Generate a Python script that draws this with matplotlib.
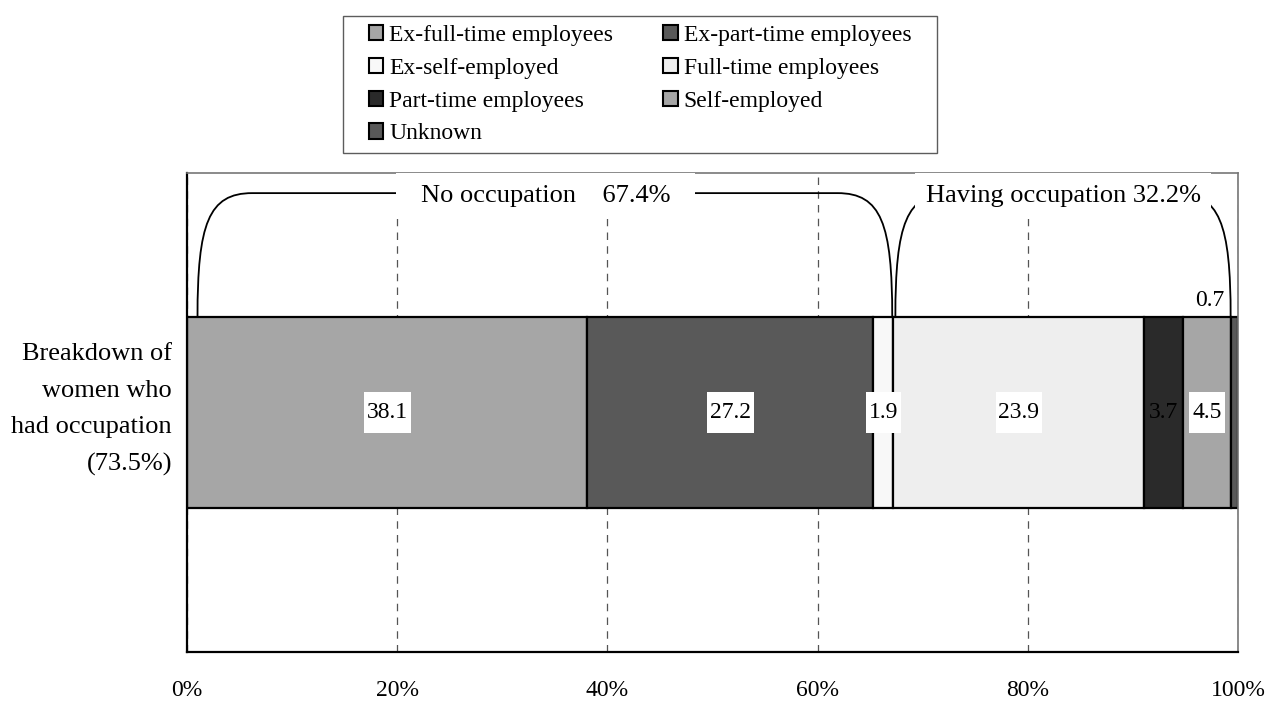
import matplotlib
matplotlib.use("Agg")
import matplotlib.pyplot as plt
import numpy as np
from matplotlib.path import Path
from matplotlib.patches import PathPatch, Patch

plt.rcParams['font.family'] = ['Liberation Serif', 'DejaVu Serif']

categories = ["Ex-full-time employees", "Ex-part-time employees", "Ex-self-employed",
              "Full-time employees", "Part-time employees", "Self-employed", "Unknown"]
values = [38.1, 27.2, 1.9, 23.9, 3.7, 4.5, 0.7]
colors = ["#a6a6a6", "#595959", "#f8f8f8", "#eeeeee", "#2a2a2a", "#a6a6a6", "#595959"]
row_label = "Breakdown of\nwomen who\nhad occupation\n(73.5%)"
xtick_vals = [0, 20, 40, 60, 80, 100]
xtick_labels = ["0%", "20%", "40%", "60%", "80%", "100%"]
no_occ_text = "No occupation    67.4%"
has_occ_text = "Having occupation 32.2%"


def padded_box(px, py):
    # rectangular box with separate horizontal / vertical padding (in fontsize units)
    def box(x0, y0, w, h, mutation_size):
        dx, dy = px * mutation_size, py * mutation_size
        x0, y0, x1, y1 = x0 - dx, y0 - dy, x0 + w + dx, y0 + h + dy
        verts = [(x0, y0), (x1, y0), (x1, y1), (x0, y1), (x0, y0)]
        codes = [Path.MOVETO, Path.LINETO, Path.LINETO, Path.LINETO, Path.CLOSEPOLY]
        return Path(verts, codes)
    return box


def bracket(ax, x0, x1, y0, y1, w):
    k = y0 + 0.75 * (y1 - y0)
    verts = [(x0, y0), (x0, k), (x0 + 0.2 * w, y1), (x0 + w, y1),
             (x1 - w, y1),
             (x1 - 0.2 * w, y1), (x1, k), (x1, y0)]
    codes = [Path.MOVETO, Path.CURVE4, Path.CURVE4, Path.CURVE4,
             Path.LINETO,
             Path.CURVE4, Path.CURVE4, Path.CURVE4]
    ax.add_patch(PathPatch(Path(verts, codes), fill=False, lw=1.3,
                           edgecolor="black", zorder=2.6, clip_on=False))


fig = plt.figure(figsize=(12.7, 7.08), dpi=100)
ax = fig.add_axes([187 / 1270, 56 / 708, 1051 / 1270, 479 / 708])

bar_h = 0.4
lefts = np.concatenate([[0], np.cumsum(values)[:-1]])
ax.barh([0] * len(values), values, left=lefts, height=bar_h, color=colors,
        edgecolor="black", linewidth=1.6, zorder=2)

# value labels in the middle of each segment
label_box = dict(boxstyle=padded_box(0.12, 0.42), fc="white", ec="none")
for v, l in zip(values, lefts):
    if v < 1:
        ax.text(l - 0.6, bar_h / 2 + 0.012, f"{v}", ha="right", va="bottom",
                fontsize=17, zorder=4)
    elif 3 < v < 4:
        # narrow dark segment: plain text
        ax.text(l + v / 2, 0, f"{v}", ha="center", va="center", fontsize=17, zorder=4)
    else:
        ax.text(l + v / 2, 0, f"{v}", ha="center", va="center", fontsize=17,
                bbox=label_box, zorder=4)

# braces above the bar
no_occ_end = sum(values[:3])
has_occ_end = sum(values[:6])
y_top = 0.458
bracket(ax, 1.0, no_occ_end - 0.1, bar_h / 2, y_top, 5.2)
bracket(ax, no_occ_end + 0.2, has_occ_end, bar_h / 2, y_top, 5.2)
ax.text((1.0 + no_occ_end) / 2, 0.452, no_occ_text, ha="center", va="center", fontsize=19,
        bbox=dict(boxstyle=padded_box(0.95, 0.45), fc="white", ec="none"),
        zorder=3, clip_on=False)
ax.text((no_occ_end + has_occ_end) / 2 + 0.1, 0.452, has_occ_text, ha="center", va="center",
        fontsize=19, bbox=dict(boxstyle=padded_box(0.4, 0.45), fc="white", ec="none"),
        zorder=3, clip_on=False)

ax.set_xlim(0, 100)
ax.set_ylim(-0.5, 0.5)
ax.set_xticks(xtick_vals)
ax.set_xticklabels(xtick_labels, fontsize=17)
ax.set_yticks([])
ax.tick_params(axis="x", length=0, pad=20)

# category label left of the bar
ax.text(-15 / 1051, 0.006, row_label, transform=ax.get_yaxis_transform(),
        ha="right", va="center", multialignment="right", fontsize=19, linespacing=1.85)

ax.set_axisbelow(True)
ax.xaxis.grid(True, color="#555555", linestyle=(0, (6, 5)), linewidth=0.9)
for side in ["left", "bottom"]:
    ax.spines[side].set_color("black")
    ax.spines[side].set_linewidth(1.6)
for side in ["top", "right"]:
    ax.spines[side].set_color("#777777")
    ax.spines[side].set_linewidth(1.2)

# legend in row order, two columns
order = [0, 2, 4, 6, 1, 3, 5]
handles = [Patch(facecolor=colors[i], edgecolor="black", linewidth=1.5) for i in order]
labels = [categories[i] for i in order]
leg = fig.legend(handles, labels, loc="upper center", bbox_to_anchor=(640 / 1270, 1 - 16 / 708),
                 ncol=2, fontsize=17, frameon=True, fancybox=False, edgecolor="black",
                 handlelength=0.62, handleheight=0.62, handletextpad=0.25,
                 labelspacing=0.5, columnspacing=2.1, borderpad=0.38, borderaxespad=0)
frame = leg.get_frame()
frame.set_boxstyle(padded_box(0.7, 0.0))
frame.set_linewidth(1.0)
frame.set_edgecolor("#333333")

fig.savefig("out.png", dpi=100, facecolor="white")
